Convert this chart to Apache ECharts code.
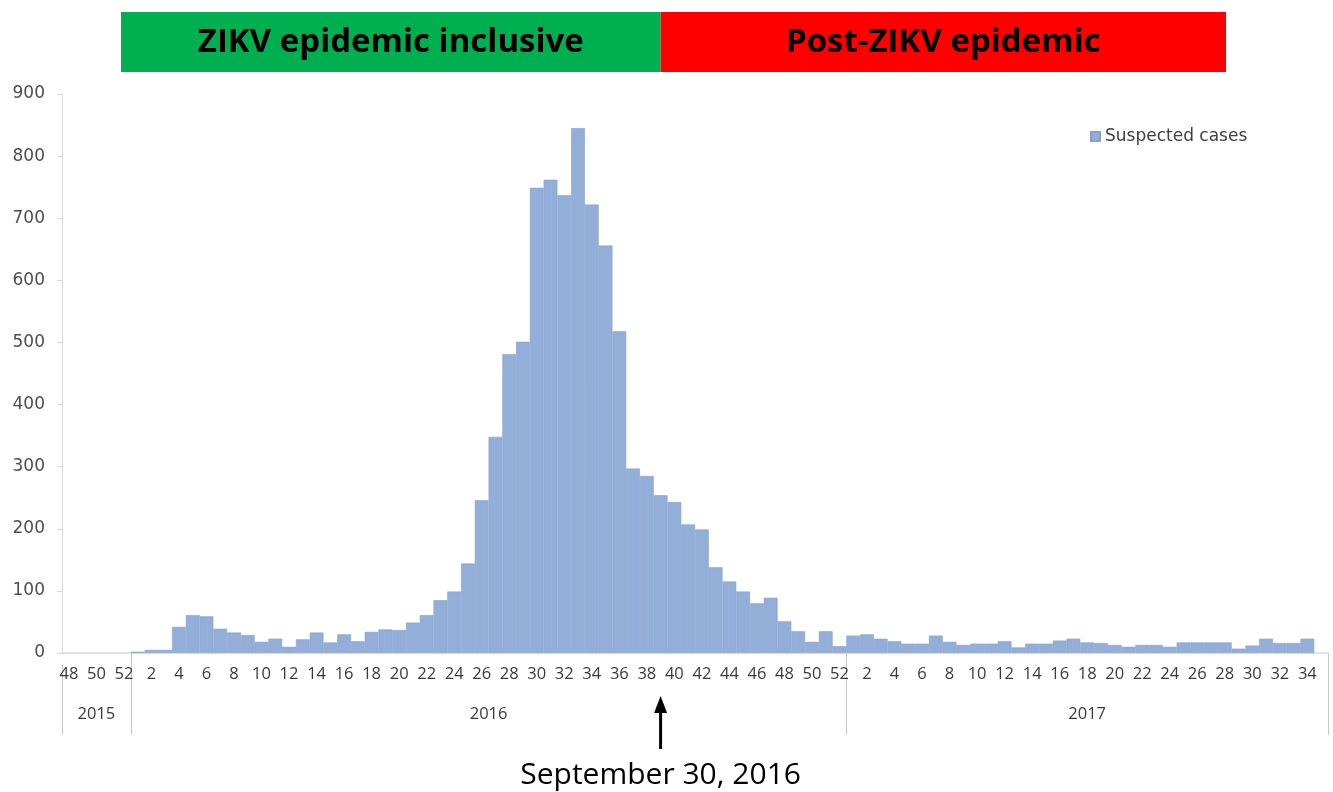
<!DOCTYPE html>
<html><head><meta charset="utf-8">
<script src="https://cdn.jsdelivr.net/npm/echarts@6/dist/echarts.min.js"></script>
<style>html,body{margin:0;padding:0;background:#fff}#c{width:1333px;height:792px}</style>
</head><body><div id="c"></div>
<script>
const years = ['2015', '2016', '2017'];
const weeks2015 = [48, 49, 50, 51, 52];
const cases2015 = [0, 0, 0, 0, 0];
const weeks2016 = [1, 2, 3, 4, 5, 6, 7, 8, 9, 10, 11, 12, 13, 14, 15, 16, 17, 18, 19, 20, 21, 22, 23, 24, 25, 26,
  27, 28, 29, 30, 31, 32, 33, 34, 35, 36, 37, 38, 39, 40, 41, 42, 43, 44, 45, 46, 47, 48, 49, 50, 51, 52];
const cases2016 = [2, 5, 5, 42, 61, 59, 39, 33, 29, 18, 23, 10, 22, 33, 17, 30, 19, 34, 38, 37, 49, 61, 85, 99, 144, 246,
  348, 481, 501, 749, 762, 737, 845, 722, 656, 518, 297, 285, 254, 243, 207, 199, 138, 115, 99, 80, 89, 51, 35, 18, 35, 11];
const weeks2017 = [1, 2, 3, 4, 5, 6, 7, 8, 9, 10, 11, 12, 13, 14, 15, 16, 17, 18, 19, 20, 21, 22, 23, 24, 25, 26,
  27, 28, 29, 30, 31, 32, 33, 34, 35];
const cases2017 = [28, 30, 23, 19, 15, 15, 28, 18, 13, 15, 15, 19, 9, 15, 15, 20, 23, 17, 16, 13, 10, 13, 13, 10, 17, 17,
  17, 17, 7, 12, 23, 16, 16, 23, null];
const yTicks = [0, 100, 200, 300, 400, 500, 600, 700, 800, 900];
const periodLabels = ['ZIKV epidemic inclusive', 'Post-ZIKV epidemic'];
const seriesName = 'Suspected cases';
const markerCategory = '2016-39';
const markerText = 'September 30, 2016';

const weeksByYear = [weeks2015, weeks2016, weeks2017];
const casesByYear = [cases2015, cases2016, cases2017];
const cats = [], vals = [];
years.forEach((y, yi) => {
  weeksByYear[yi].forEach((w, i) => {
    cats.push(y + '-' + w);
    const v = casesByYear[yi][i];
    vals.push(v === 0 ? { value: 0, itemStyle: { borderWidth: 0 } } : v);
  });
});

const chart = echarts.init(document.getElementById('c'));
const option = {
  animation: false,
  backgroundColor: '#fff',
  grid: { left: 62, right: 5, top: 94, bottom: 139 },
  legend: {
    data: [seriesName], left: 1085, top: 123, icon: 'rect', itemWidth: 9, itemHeight: 9, itemGap: 4,
    textStyle: { fontFamily: 'DejaVu Sans', fontSize: 17, color: '#404040' }
  },
  xAxis: {
    type: 'category', data: cats,
    axisLine: { lineStyle: { color: '#d9d9d9', width: 1.5 } },
    axisTick: { show: false },
    axisLabel: { interval: 1, formatter: v => v.split('-')[1], fontFamily: 'Open Sans', fontSize: 16.5, color: '#3a3a3a', margin: 13 }
  },
  yAxis: {
    type: 'value', min: yTicks[0], max: yTicks[yTicks.length - 1], interval: yTicks[1] - yTicks[0],
    splitLine: { show: false },
    axisLine: { show: true, lineStyle: { color: '#d9d9d9' } },
    axisTick: { show: true, length: 5, lineStyle: { color: '#d9d9d9' } },
    axisLabel: { fontFamily: 'DejaVu Sans', fontSize: 17, color: '#4d4d4d', margin: 17 }
  },
  series: [{
    name: seriesName, type: 'bar', data: vals, barCategoryGap: '0%',
    itemStyle: { color: '#92aed9', borderColor: '#86a1cf', borderWidth: 0.6 }
  }]
};
chart.setOption(option);

const px = c => chart.convertToPixel({ xAxisIndex: 0 }, c);
const bw = px(cats[1]) - px(cats[0]);
const baseY = chart.convertToPixel({ yAxisIndex: 0 }, 0);
const ax = px(markerCategory);
const els = [];
els.push({ type: 'rect', shape: { x: 121, y: 12, width: ax - 121, height: 60 }, style: { fill: '#00b050' } });
els.push({ type: 'rect', shape: { x: ax, y: 12, width: 1226 - ax, height: 60 }, style: { fill: '#ff0000' } });
els.push({ type: 'text', x: (121 + ax) / 2, y: 43, style: { text: periodLabels[0], fill: '#000', font: 'bold 33px "Open Sans", sans-serif', align: 'center', verticalAlign: 'middle' } });
els.push({ type: 'text', x: (ax + 1226) / 2, y: 43, style: { text: periodLabels[1], fill: '#000', font: 'bold 33px "Open Sans", sans-serif', align: 'center', verticalAlign: 'middle' } });

// year group brackets
const edges = [];
years.forEach((y, yi) => {
  const w = weeksByYear[yi];
  const l = px(y + '-' + w[0]) - bw / 2, r = px(y + '-' + w[w.length - 1]) + bw / 2;
  edges.push(l);
  if (yi === years.length - 1) edges.push(r);
  els.push({ type: 'text', x: (l + r) / 2, y: 714, style: { text: y, fill: '#3a3a3a', font: '16.5px "Open Sans", sans-serif', align: 'center', verticalAlign: 'middle' } });
});
edges.forEach((e, i) => {
  els.push({ type: 'line', shape: { x1: Math.round(e) + 0.5, y1: i === 0 ? baseY + 12 : baseY, x2: Math.round(e) + 0.5, y2: 735 }, style: { stroke: '#c8c8c8', lineWidth: 1 } });
});
// arrow
els.push({ type: 'line', shape: { x1: ax, y1: 749, x2: ax, y2: 708 }, style: { stroke: '#000', lineWidth: 3 } });
els.push({ type: 'polygon', shape: { points: [[ax - 6.5, 713], [ax + 6.5, 713], [ax, 696]] }, style: { fill: '#000' } });
els.push({ type: 'text', x: ax, y: 775, style: { text: markerText, fill: '#000', font: '30px "Open Sans", sans-serif', align: 'center', verticalAlign: 'middle' } });
chart.setOption({ graphic: { elements: els } });
</script></body></html>
